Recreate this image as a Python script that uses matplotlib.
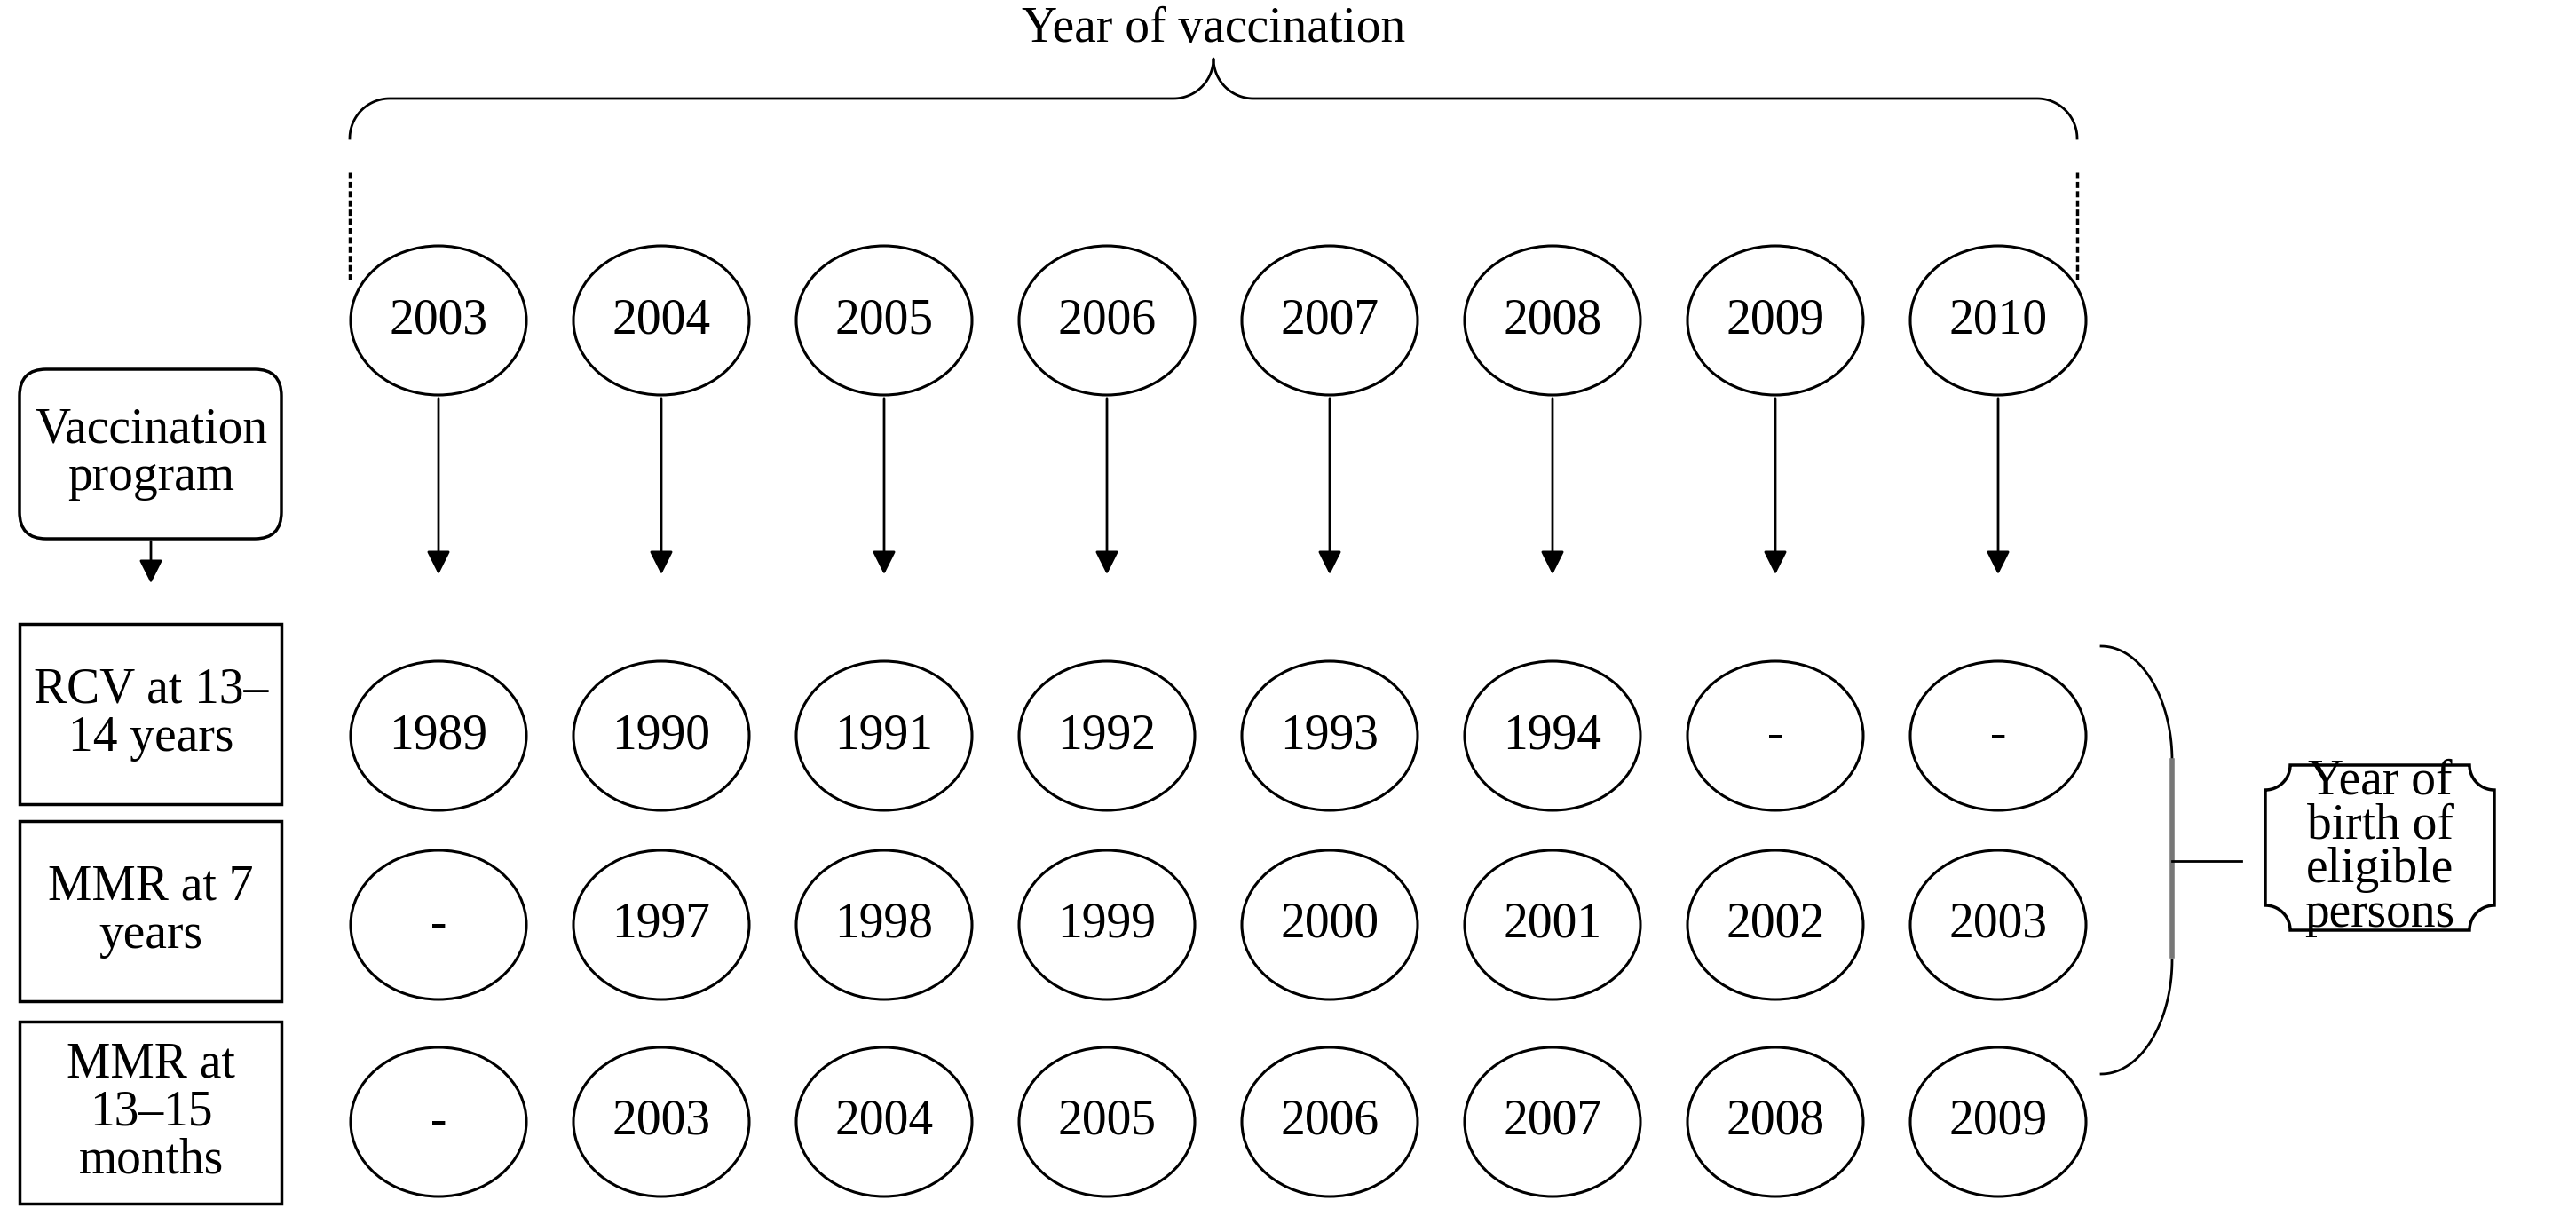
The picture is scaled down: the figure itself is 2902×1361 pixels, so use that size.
import numpy as np
import matplotlib
matplotlib.use("Agg")
import matplotlib.pyplot as plt
from matplotlib.patches import Ellipse, FancyBboxPatch, Rectangle, Polygon

vacc_years = ["2003", "2004", "2005", "2006", "2007", "2008", "2009", "2010"]
rcv_births = ["1989", "1990", "1991", "1992", "1993", "1994", "-", "-"]
mmr7_births = ["-", "1997", "1998", "1999", "2000", "2001", "2002", "2003"]
mmr13_births = ["-", "2003", "2004", "2005", "2006", "2007", "2008", "2009"]
programs = ["RCV at 13–\n14 years", "MMR at 7\nyears", "MMR at\n13–15\nmonths"]

plt.rcParams["font.family"] = ["Liberation Serif", "DejaVu Serif"]
FS = 40

fig = plt.figure(figsize=(29.02, 13.61), dpi=100)
ax = fig.add_axes([0, 0, 1, 1])
ax.set_xlim(0, 2902)
ax.set_ylim(1361, 0)
ax.axis("off")

xs = [494 + 251 * i for i in range(len(vacc_years))]
cw, ch = 198, 168
row_y = [829, 1042, 1264]

def circle(x, y, label):
    ax.add_patch(Ellipse((x, y), cw, ch, fill=False, lw=2.2, ec="black"))
    ax.text(x, y, label, ha="center", va="center", fontsize=FS)

# top circles and arrows
for x, yr in zip(xs, vacc_years):
    circle(x, 361, yr)
    ax.annotate("", xy=(x, 650), xytext=(x, 446),
                arrowprops=dict(arrowstyle="-|>", lw=2, color="black", mutation_scale=40))

for y, row in zip(row_y, [rcv_births, mmr7_births, mmr13_births]):
    for x, v in zip(xs, row):
        circle(x, y, v)

# title and brace
ax.text(1367, 33, "Year of vaccination", ha="center", va="center", fontsize=FS)
r = 45
left_x, right_x, top_y, peak = 394, 2340, 111, 1367
bx, by = [], []
for a in np.linspace(np.pi, np.pi / 2, 30):
    bx.append(left_x + r + r * np.cos(a)); by.append(top_y + r - r * np.sin(a))
for a in np.linspace(-np.pi / 2, 0, 30):
    bx.append(peak - r + r * np.cos(a)); by.append(top_y - r - r * np.sin(a))
for a in np.linspace(np.pi, 3 * np.pi / 2, 30):
    bx.append(peak + r + r * np.cos(a)); by.append(top_y - r - r * np.sin(a))
for a in np.linspace(np.pi / 2, 0, 30):
    bx.append(right_x - r + r * np.cos(a)); by.append(top_y + r - r * np.sin(a))
ax.plot(bx, by, color="black", lw=2)
for x in (left_x, right_x):
    ax.plot([x, x], [194, 315], color="black", lw=2.5, ls=(0, (2, 1)))

# left boxes
ax.add_patch(FancyBboxPatch((22, 416), 295, 191, boxstyle="round,pad=0,rounding_size=30",
                            fill=False, lw=2.5, ec="black"))
ax.text(170, 511, "Vaccination\nprogram", ha="center", va="center", fontsize=FS, linespacing=1.05)
ax.annotate("", xy=(170, 660), xytext=(170, 607),
            arrowprops=dict(arrowstyle="-|>", lw=2, color="black", mutation_scale=40))
for (y0, y1), lab in zip([(703, 906), (925, 1128), (1151, 1356)], programs):
    ax.add_patch(Rectangle((22, y0), 295, y1 - y0, fill=False, lw=2.5, ec="black"))
    ax.text(170, (y0 + y1) / 2, lab, ha="center", va="center", fontsize=FS, linespacing=1.05)

# right bracket
tt = np.linspace(0, 1, 40)
ux = 2367 + (2447 - 2367) * np.sin(tt * np.pi / 2)
uy = 728 + (857 - 728) * (1 - np.cos(tt * np.pi / 2))
ax.plot(ux, uy, color="black", lw=2)
ax.plot(ux, 1210 - (uy - 728), color="black", lw=2)
ax.plot([2447, 2447], [857, 1077], color="#777777", lw=4)
ax.plot([2447, 2525], [970, 970], color="black", lw=2)

# right label box with concave corners
x0, x1, y0, y1, rc = 2552, 2810, 862, 1048, 28
pts = []
for cx, cy, a0, a1 in [(x0, y0, np.pi / 2, 0), (x1, y0, np.pi, np.pi / 2),
                       (x1, y1, 3 * np.pi / 2, np.pi), (x0, y1, 2 * np.pi, 3 * np.pi / 2)]:
    for a in np.linspace(a0, a1, 20):
        pts.append((cx + rc * np.cos(a), cy + rc * np.sin(a)))
ax.add_patch(Polygon(pts, closed=True, fill=False, lw=2.5, ec="black"))
ax.text(2681, 955, "Year of\nbirth of\neligible\npersons", ha="center", va="center",
        fontsize=FS, linespacing=0.95)

fig.savefig("out.png", dpi=100, facecolor="white")
